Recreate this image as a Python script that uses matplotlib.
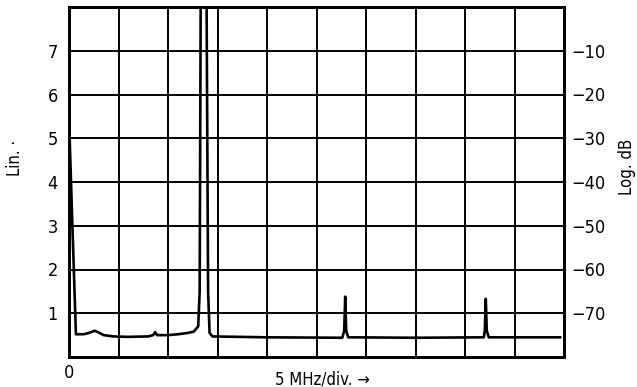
import matplotlib
matplotlib.use("Agg")
import matplotlib.pyplot as plt
from matplotlib import font_manager

# ---- data ----
freq_mhz = [0.0, 0.3, 0.7, 1.5, 2.0, 2.6, 3.0, 3.5, 4.5, 6.0, 8.0, 8.5, 8.7, 8.9, 10.0, 11.0,
            12.0, 12.6, 13.05, 13.2, 13.3, 13.4, 13.75, 13.9, 14.05, 14.2, 14.5,
            20.0, 27.6, 27.8, 27.9, 28.0, 28.2, 35.0, 41.9, 42.0, 42.1, 42.2, 42.4, 49.6]
amplitude = [5.5, 3.3, 0.52, 0.52, 0.55, 0.6, 0.56, 0.5, 0.47, 0.46, 0.47, 0.5, 0.57, 0.5, 0.5, 0.52,
             0.55, 0.58, 0.7, 1.5, 8.0, 9.5, 9.5, 8.0, 1.5, 0.55, 0.47,
             0.45, 0.44, 0.6, 1.38, 0.6, 0.45, 0.44, 0.45, 0.6, 1.33, 0.6, 0.45, 0.45]
lin_ticks = [1, 2, 3, 4, 5, 6, 7]
lin_labels = ["1", "2", "3", "4", "5", "6", "7"]
db_ticks = [1, 2, 3, 4, 5, 6, 7]
db_labels = ["\u221270", "\u221260", "\u221250", "\u221240", "\u221230", "\u221220", "\u221210"]
x_grid = [0, 5, 10, 15, 20, 25, 30, 35, 40, 45, 50]

# choose a narrow sans face if one is installed
fl = font_manager.fontManager.ttflist
names = {f.name for f in fl}
stretch = "normal"
if "Liberation Sans Narrow" in names:
    fam = ["Liberation Sans Narrow", "DejaVu Sans"]
elif any(f.name == "DejaVu Sans" and str(f.stretch) in ("condensed", "semi-condensed", "87.5", "75")
         for f in fl):
    fam = ["DejaVu Sans"]
    stretch = "condensed"
else:
    fam = ["Liberation Sans", "DejaVu Sans"]
plt.rcParams["font.family"] = fam
plt.rcParams["font.stretch"] = stretch

fig = plt.figure(figsize=(6.37, 3.87), dpi=100)
ax = fig.add_axes([69/637, 30/387, (564-69)/637, (357-7)/387])
ax.set_xlim(0, 50)
ax.set_ylim(0, 8)

for v in x_grid[1:-1]:
    ax.axvline(v, color="black", lw=1.4, zorder=1)
for v in lin_ticks:
    ax.axhline(v, color="black", lw=1.4, zorder=1)

ax.plot(freq_mhz, amplitude, color="black", lw=1.9, zorder=3, solid_joinstyle="round")

for s in ax.spines.values():
    s.set_linewidth(2.0)

ax.set_xticks([])
ax.set_yticks(lin_ticks)
ax.set_yticklabels(lin_labels, fontsize=13)
ax.tick_params(axis="y", length=0, pad=8)

ax2 = ax.twinx()
ax2.set_ylim(0, 8)
ax2.set_yticks(db_ticks)
ax2.set_yticklabels(db_labels, fontsize=13)
ax2.tick_params(axis="y", length=0, pad=5)
for s in ax2.spines.values():
    s.set_linewidth(2.0)

fig.text(15/637, 1 - 158/387, "Lin. \u00b7", rotation=90, ha="center", va="center", fontsize=12)
fig.text(627/637, 1 - 167/387, "Log. dB", rotation=90, ha="center", va="center", fontsize=12)
fig.text(69/637, 1 - 373/387, "0", ha="center", va="center", fontsize=13)
fig.text(322/637, 1 - 379/387, "5 MHz/div. \u2192", ha="center", va="center", fontsize=12)

fig.savefig("out.png", dpi=100)
